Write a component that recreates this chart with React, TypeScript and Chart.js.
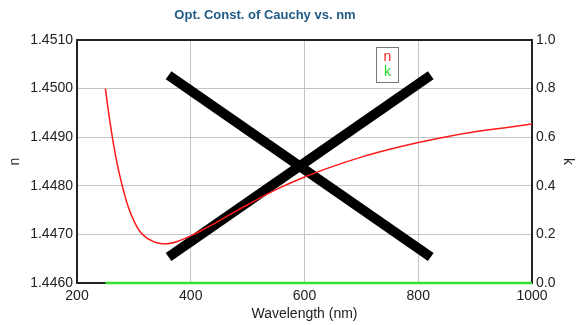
import React, { useEffect, useRef } from "react";
import { Chart, registerables } from "chart.js";

Chart.register(...registerables);

const wavelengths = [250, 255, 260, 265, 270, 275, 280, 290, 300, 310, 320, 330, 340, 350, 360, 375, 400, 425, 450, 475, 500, 550, 600, 650, 700, 750, 800, 850, 900, 950, 1000];
const nValues = [1.45000, 1.44955, 1.44916, 1.44880, 1.44849, 1.44822, 1.44798, 1.44757, 1.44728, 1.44707, 1.44695, 1.44688, 1.44683, 1.44681, 1.44681, 1.44685, 1.44697, 1.44712, 1.44728, 1.44745, 1.44761, 1.44792, 1.44818, 1.44840, 1.44859, 1.44875, 1.44889, 1.44901, 1.44911, 1.44919, 1.44927];
const kWavelengths = [250, 1000];
const kValues = [0, 0];
const crossA_x = [361, 822];
const crossA_y = [0.855, 0.107];
const crossB_x = [361, 822];
const crossB_y = [0.107, 0.855];

const titleText = "Opt. Const. of Cauchy vs. nm";
const xTitle = "Wavelength (nm)";
const nTitle = "n";
const kTitle = "k";

const FONT = "'Liberation Sans', Arial, Helvetica, sans-serif";
const TICK_COLOR = "#222";

export default function App() {
  const ref = useRef<HTMLCanvasElement | null>(null);

  useEffect(() => {
    if (!ref.current) return;
    Chart.defaults.font.family = FONT;

    const framePlugin = {
      id: "frame",
      beforeDatasetsDraw(chart: any) {
        const { ctx, chartArea } = chart;
        ctx.save();
        ctx.strokeStyle = "#222";
        ctx.lineWidth = 2;
        ctx.strokeRect(chartArea.left, chartArea.top, chartArea.right - chartArea.left, chartArea.bottom - chartArea.top);
        ctx.restore();
      },
    };

    const titlePlugin = {
      id: "customTitle",
      afterDraw(chart: any) {
        const { ctx } = chart;
        ctx.save();
        ctx.font = `bold 13px ${FONT}`;
        ctx.fillStyle = "#1f5b85";
        ctx.textAlign = "center";
        ctx.textBaseline = "middle";
        ctx.fillText(titleText, 265, 15);
        ctx.restore();
      },
    };

    const legendPlugin = {
      id: "customLegend",
      afterDraw(chart: any) {
        const { ctx } = chart;
        ctx.save();
        ctx.fillStyle = "#fff";
        ctx.fillRect(376, 47, 22, 35);
        ctx.strokeStyle = "#777";
        ctx.lineWidth = 1;
        ctx.strokeRect(376.5, 47.5, 22, 35);
        ctx.font = `14px ${FONT}`;
        ctx.textAlign = "center";
        ctx.textBaseline = "middle";
        ctx.fillStyle = "#ff2020";
        ctx.fillText("n", 387.5, 57);
        ctx.fillStyle = "#22dd22";
        ctx.fillText("k", 387.5, 72);
        ctx.restore();
      },
    };

    const chart = new Chart(ref.current, {
      type: "line",
      data: {
        datasets: [
          {
            label: "n",
            data: wavelengths.map((w, i) => ({ x: w, y: nValues[i] })),
            borderColor: "#ff1a1a",
            borderWidth: 1.5,
            pointRadius: 0,
            tension: 0.4,
            yAxisID: "y",
          },
          {
            label: "k",
            data: kWavelengths.map((w, i) => ({ x: w, y: kValues[i] })),
            borderColor: "#33e033",
            borderWidth: 2.5,
            pointRadius: 0,
            yAxisID: "y2",
            clip: 4,
          },
          {
            label: "crossA",
            data: crossA_x.map((w, i) => ({ x: w, y: crossA_y[i] })),
            borderColor: "#000",
            borderWidth: 10,
            borderCapStyle: "butt",
            pointRadius: 0,
            yAxisID: "y2",
          },
          {
            label: "crossB",
            data: crossB_x.map((w, i) => ({ x: w, y: crossB_y[i] })),
            borderColor: "#000",
            borderWidth: 10,
            borderCapStyle: "butt",
            pointRadius: 0,
            yAxisID: "y2",
          },
        ],
      } as any,
      options: {
        responsive: false,
        animation: false,
        layout: { padding: { top: 40, left: 0, right: 0, bottom: 0 } },
        plugins: {
          legend: { display: false },
          title: { display: false },
          tooltip: { enabled: false },
        },
        scales: {
          x: {
            type: "linear",
            min: 200,
            max: 1000,
            ticks: {
              stepSize: 200,
              color: TICK_COLOR,
              font: { size: 14 },
              padding: 5,
              maxRotation: 0,
              callback: (v: any) => String(v),
            },
            grid: { color: "#c4c4c4", drawTicks: false },
            border: { display: true, color: "#222", width: 2 },
            title: { display: true, text: xTitle, color: TICK_COLOR, font: { size: 14 }, padding: { top: 0, bottom: 2 } },
            afterFit: (s: any) => { s.height = 42; },
          },
          y: {
            type: "linear",
            position: "left",
            min: 1.446,
            max: 1.451,
            ticks: {
              stepSize: 0.001,
              color: TICK_COLOR,
              font: { size: 14 },
              padding: 4,
              callback: (v: any) => Number(v).toFixed(4),
            },
            grid: { color: "#c4c4c4", drawTicks: false },
            border: { display: true, color: "#222", width: 2 },
            title: { display: true, text: nTitle, color: TICK_COLOR, font: { size: 14 }, padding: { top: 7, bottom: 0 } },
            afterFit: (s: any) => { s.width = 77; },
          },
          y2: {
            type: "linear",
            position: "right",
            min: 0,
            max: 1,
            ticks: {
              stepSize: 0.2,
              color: TICK_COLOR,
              font: { size: 14 },
              padding: 4,
              callback: (v: any) => Number(v).toFixed(1),
            },
            grid: { drawOnChartArea: false, drawTicks: false },
            border: { display: true, color: "#222", width: 2 },
            title: { display: true, text: kTitle, color: TICK_COLOR, font: { size: 14 }, padding: { top: 3, bottom: 0 } },
            afterFit: (s: any) => { s.width = 47; },
          },
        },
      } as any,
      plugins: [framePlugin, titlePlugin, legendPlugin],
    });

    return () => chart.destroy();
  }, []);

  return (
    <div style={{ position: "absolute", left: 0, top: 0, width: 579, height: 325, background: "#fff" }}>
      <canvas ref={ref} width={579} height={325} style={{ display: "block" }} />
    </div>
  );
}
